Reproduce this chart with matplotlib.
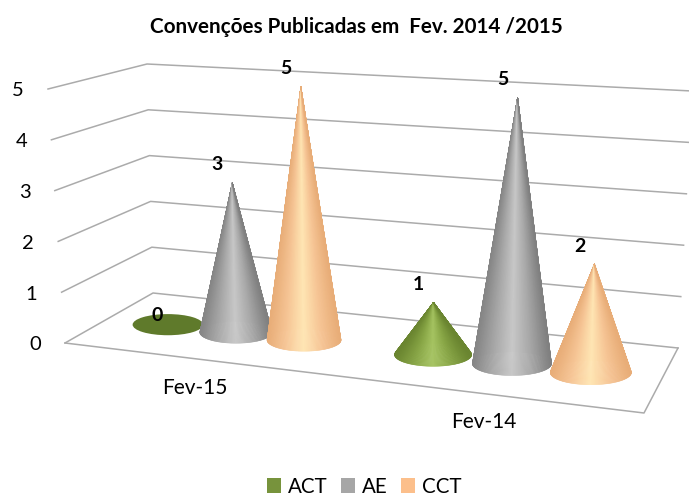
import numpy as np
import matplotlib
matplotlib.use("Agg")
import matplotlib.pyplot as plt
from matplotlib.collections import PolyCollection
from matplotlib.colors import LinearSegmentedColormap
from matplotlib.patches import Ellipse, Patch

# ==========================================
# DATA
# ==========================================
TITLE = "Convenções Publicadas em  Fev. 2014 /2015"
categories = ["Fev-15", "Fev-14"]
series_names = ["ACT", "AE", "CCT"]
act_values = [0, 1]
ae_values = [3, 5]
cct_values = [5, 2]
y_ticks = [0, 1, 2, 3, 4, 5]

legend_colors = ["#77933C", "#A6A6A6", "#FCBF8B"]
flat_color = "#5F7A2B"
cone_colors = [
    ["#6A8530", "#86A444", "#A6C462", "#86A444", "#6A8530"],
    ["#858585", "#A8A8A8", "#C8C8C8", "#A8A8A8", "#808080"],
    ["#E8AD78", "#F6C595", "#FFE6B4", "#F6C595", "#E8AD78"],
]

# ==========================================
# 3D BOX -> PIXELS
# ==========================================
# corners of the chart box, (u, depth, value/5) -> pixel position
corners = {
    (0, 0, 0): (65, 343), (1, 0, 0): (644, 413),
    (0, 1, 0): (153, 293), (1, 1, 0): (678, 348),
    (0, 0, 1): (48, 89), (1, 0, 1): (654, 119),
    (0, 1, 1): (147, 64), (1, 1, 1): (692, 91),
}
Y_MAX = 5
GROUP_SHIFT = -0.02
BAR_STEP = 0.13
BAR_HALF = 0.0625


def project(u, d, v):
    w = v / Y_MAX
    x, y = 0.0, 0.0
    for (a, b, c), (px, py) in corners.items():
        k = (u if a else 1 - u) * (d if b else 1 - d) * (w if c else 1 - w)
        x += k * px
        y += k * py
    return x, y


def draw_cone(ax, u, value, colors):
    cx, cy = project(u, 0.5, 0)
    left = project(0, 0.5, 0)[0]
    right = project(1, 0.5, 0)[0]
    rx = BAR_HALF * (1 + 0.2 * u) * (right - left)
    ry = 0.3 * rx

    if value == 0:
        ax.add_patch(Ellipse((cx, cy), 2 * rx, 2 * ry, color=flat_color, lw=0, zorder=3))
        return

    ax_, ay_ = project(u, 0.5, value)
    cmap = LinearSegmentedColormap.from_list("cone", colors)
    # back half first, then the front half over it
    theta = np.r_[np.linspace(np.pi, 0, 61), np.linspace(np.pi, 2 * np.pi, 121)]
    polys, faces = [], []
    for t0, t1 in zip(theta[:-1], theta[1:]):
        if t0 == 0:
            continue
        p0 = (cx + rx * np.cos(t0), cy - ry * np.sin(t0))
        p1 = (cx + rx * np.cos(t1), cy - ry * np.sin(t1))
        polys.append([(ax_, ay_), p0, p1])
        faces.append(cmap((np.cos((t0 + t1) / 2) + 1) / 2))
    ax.add_collection(PolyCollection(polys, facecolors=faces, edgecolors=faces,
                                     linewidths=0.4, zorder=3))


# ==========================================
# FIGURE
# ==========================================
plt.rcParams["font.family"] = ["Lato", "DejaVu Sans"]
fig = plt.figure(figsize=(6.89, 5.0), dpi=100)
ax = fig.add_axes([0, 0, 1, 1])
ax.set_xlim(0, 689)
ax.set_ylim(500, 0)
ax.axis("off")

fig.text(356 / 689, 1 - 27 / 500, TITLE, ha="center", va="center",
         fontsize=14.9, fontweight="bold", color="black")

# gridlines on side + back wall
grid_color = "#ABABAB"
for v in y_ticks:
    pts = [project(0, 0, v), project(0, 1, v), project(1, 1, v)]
    ax.plot(*zip(*pts), color=grid_color, lw=1.1, zorder=1)
    x, y = project(0, 0, v)
    ax.text(x - 30, y + 2, str(v), ha="center", va="center", fontsize=14.5, color="black")

# front and right edge of the floor
floor = [project(0, 0, 0), project(1, 0, 0), project(1, 1, 0)]
ax.plot(*zip(*floor), color=grid_color, lw=1.1, zorder=1)

# cones
all_values = [act_values, ae_values, cct_values]
for i, cat in enumerate(categories):
    center = (i + 0.5) / len(categories) + GROUP_SHIFT
    for s, values in enumerate(all_values):
        # steps get wider towards the front right
        u = center + (s - 1) * BAR_STEP * (0.88 + 0.3 * center)
        draw_cone(ax, u, values[i], cone_colors[s])
        x, y = project(u, 0.5, values[i])
        if values[i] == 0:
            x, y = x + 4, y + 9
        ax.text(x - 15, y - 18, str(values[i]), ha="center", va="center",
                fontsize=14, fontweight="bold", color="black", zorder=5)
    x, y = project((i + 0.5) / len(categories), 0, 0)
    ax.text(x - 15, y + 27, cat, ha="center", va="center", fontsize=15, color="black")

handles = [Patch(facecolor=c, edgecolor="none", label=n) for c, n in zip(legend_colors, series_names)]
ax.legend(handles=handles, ncol=3, frameon=False, loc="center",
          bbox_to_anchor=(364.5, 487), bbox_transform=ax.transData,
          fontsize=14.8, handlelength=0.68, handleheight=0.75,
          handletextpad=0.33, columnspacing=0.66, borderpad=0)

fig.savefig("out.png", dpi=100)
